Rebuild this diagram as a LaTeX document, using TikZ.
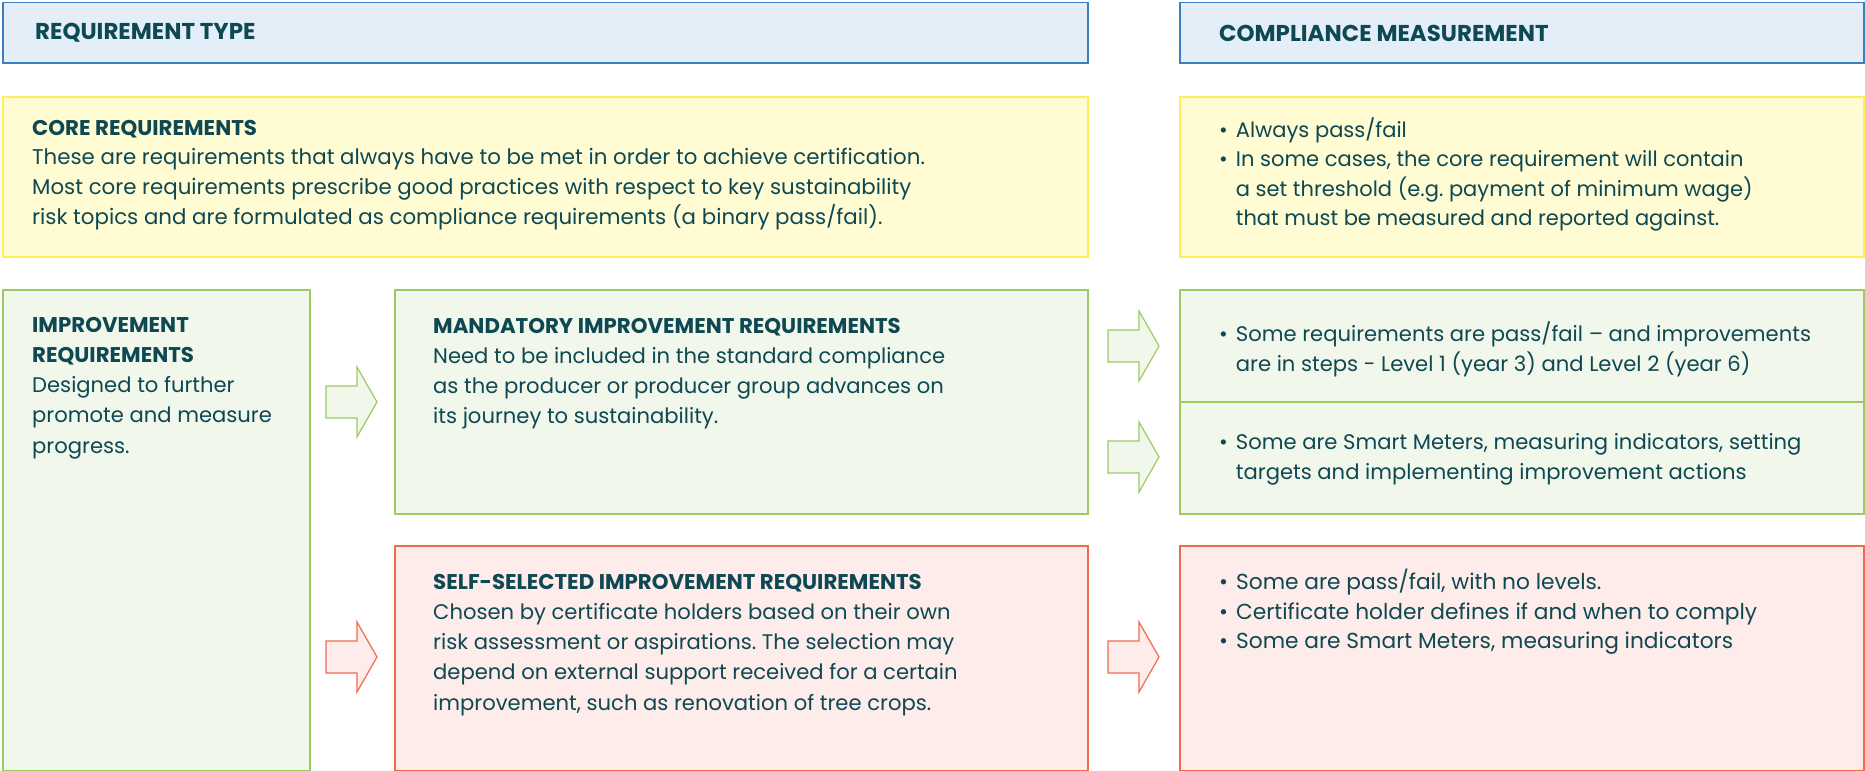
\documentclass[tikz,border=0pt]{standalone}
\usepackage{fontspec}
\setmainfont{Poppins}
\frenchspacing
\definecolor{txt}{HTML}{0E4853}
\definecolor{hdrfill}{HTML}{E3EEF8}
\definecolor{hdrline}{HTML}{3A7FC0}
\definecolor{yfill}{HTML}{FFFBD2}
\definecolor{yline}{HTML}{FFEE5A}
\definecolor{gfill}{HTML}{F1F7EB}
\definecolor{gline}{HTML}{9CCB64}
\definecolor{rfill}{HTML}{FDECE9}
\definecolor{rline}{HTML}{EE6B4E}
\newcommand{\blockarr}[4]{%
  \draw[#4,fill=#3,line width=1.2bp,line join=miter]
    (#1,#2-16) -- ++(31,0) -- ++(0,-19) -- ++(20,35) -- ++(-20,35) -- ++(0,-19) -- ++(-31,0) -- cycle;}
\newcommand{\ttl}[1]{{\fontsize{21.4}{30}\selectfont\bfseries #1}}
\begin{document}
\begin{tikzpicture}[x=1bp,y=-1bp,
  box/.style={draw,line width=1.5bp,anchor=north west,inner sep=0pt},
  hdrbox/.style={box,draw=hdrline,fill=hdrfill},
  ybox/.style={box,draw=yline,fill=yfill},
  gbox/.style={box,draw=gline,fill=gfill},
  rbox/.style={box,draw=rline,fill=rfill},
  hdrtext/.style={anchor=west,inner sep=0pt,text=txt,font=\fontsize{23}{28}\selectfont\bfseries},
  body/.style={anchor=north west,inner sep=0pt,text=txt,align=left,font=\fontsize{21.2}{30.3}\selectfont},
]
\useasboundingbox (0,0) rectangle (1865,771);
% headers
\node[hdrbox,minimum width=1085bp,minimum height=60bp] (hL) at (2,2) {};
\node[hdrbox,minimum width=684bp,minimum height=60bp] (hR) at (1179,2) {};
\node[hdrtext] (hLt) at (35,33) {REQUIREMENT TYPE};
\node[hdrtext] (hRt) at (1219,33) {COMPLIANCE MEASUREMENT};
% core
\node[ybox,minimum width=1085bp,minimum height=160bp] (cL) at (2,96) {};
\node[ybox,minimum width=684bp,minimum height=160bp] (cR) at (1179,96) {};
\node[body,font=\fontsize{21.4}{29.7}\selectfont] (cLt) at (32,120) {\ttl{CORE REQUIREMENTS}\\
These are requirements that always have to be met in order to achieve certification.\\
Most core requirements prescribe good practices with respect to key sustainability\\
risk topics and are formulated as compliance requirements (a binary pass/fail).};
\node[body,font=\fontsize{21.1}{29.7}\selectfont] (cRt) at (1219,117) {\textbullet\hspace{8bp}Always pass/fail\\
\textbullet\hspace{8bp}In some cases, the core requirement will contain\\
\hphantom{\textbullet\hspace{8bp}}a set threshold (e.g. payment of minimum wage)\\
\hphantom{\textbullet\hspace{8bp}}that must be measured and reported against.};
% improvement
\node[gbox,minimum width=307bp,minimum height=481bp] (iL) at (2,289) {};
\node[body] (iLt) at (32,317) {\ttl{IMPROVEMENT}\\\ttl{REQUIREMENTS}\\
Designed to further\\promote and measure\\progress.};
% mandatory
\node[gbox,minimum width=693bp,minimum height=224bp] (mL) at (394,289) {};
\node[body] (mLt) at (433,318) {\ttl{MANDATORY IMPROVEMENT REQUIREMENTS}\\
Need to be included in the standard compliance\\
as the producer or producer group advances on\\
its journey to sustainability.};
% right green
\node[gbox,minimum width=684bp,minimum height=112bp] (gR1) at (1179,289) {};
\node[gbox,minimum width=684bp,minimum height=112bp] (gR2) at (1179,401) {};
\node[body] (gR1t) at (1219,321) {\textbullet\hspace{8bp}Some requirements are pass/fail -- and improvements\\
\hphantom{\textbullet\hspace{8bp}}are in steps - Level 1 (year 3) and Level 2 (year 6)};
\node[body] (gR2t) at (1219,433) {\textbullet\hspace{8bp}Some are Smart Meters, measuring indicators, setting\\
\hphantom{\textbullet\hspace{8bp}}targets and implementing improvement actions};
% self-selected
\node[rbox,minimum width=693bp,minimum height=225bp] (sL) at (394,545) {};
\node[body] (sLt) at (433,574) {\ttl{SELF-SELECTED IMPROVEMENT REQUIREMENTS}\\
Chosen by certificate holders based on their own\\
risk assessment or aspirations. The selection may\\
depend on external support received for a certain\\
improvement, such as renovation of tree crops.};
\node[rbox,minimum width=684bp,minimum height=225bp] (sR) at (1179,545) {};
\node[body,font=\fontsize{21.8}{29.5}\selectfont] (sRt) at (1219,569) {\textbullet\hspace{8bp}Some are pass/fail, with no levels.\\
\textbullet\hspace{8bp}Certificate holder defines if and when to comply\\
\textbullet\hspace{8bp}Some are Smart Meters, measuring indicators};
% block arrows
\blockarr{326}{402}{gfill}{gline}
\blockarr{1108}{346}{gfill}{gline}
\blockarr{1108}{457}{gfill}{gline}
\blockarr{326}{657}{rfill}{rline}
\blockarr{1108}{657}{rfill}{rline}
\end{tikzpicture}
\end{document}
